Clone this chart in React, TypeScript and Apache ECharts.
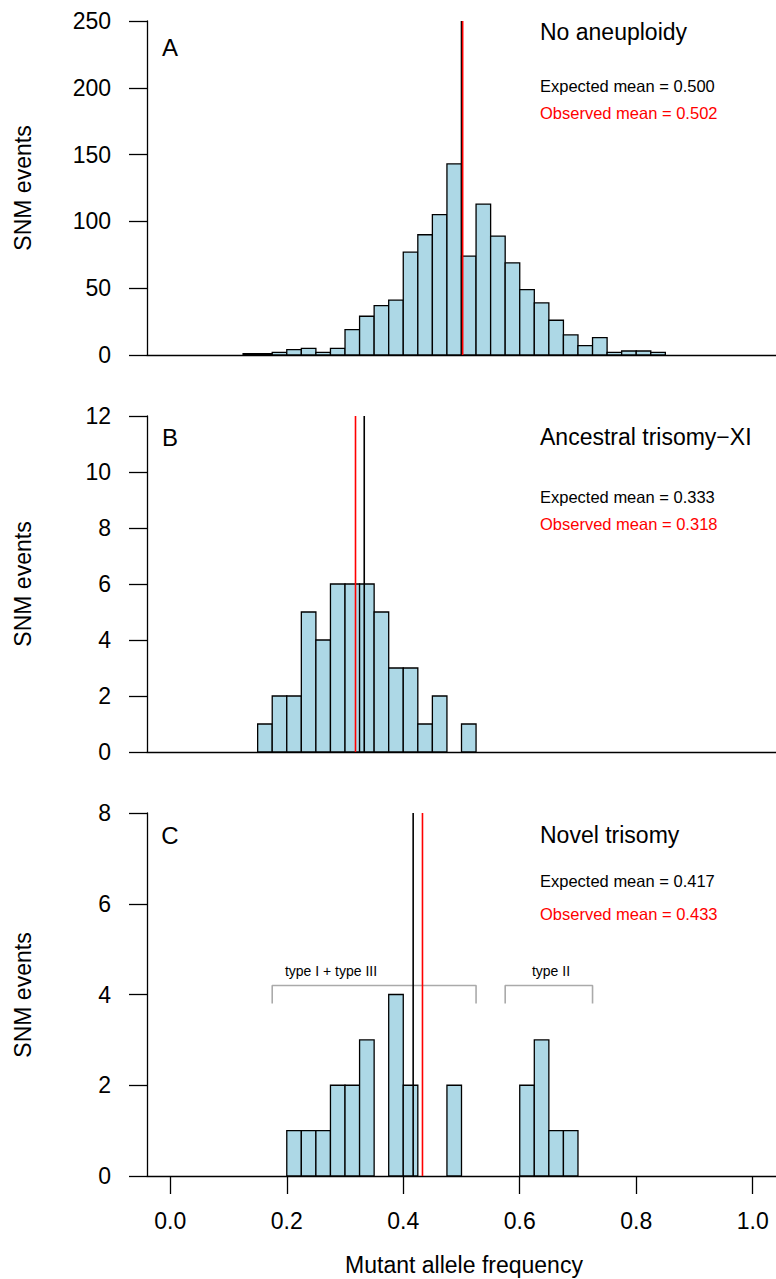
import React, { useEffect, useRef } from "react";
import * as echarts from "echarts";

// ---- data ----
const binWidth = 0.025;
const aStart = 0.125;
const aCounts = [1, 1, 2, 4, 5, 2, 5, 19, 29, 37, 41, 77, 90, 105, 143, 74, 113, 89, 69, 49, 39, 26, 15, 7, 13, 2, 3, 3, 2];
const bStart = 0.15;
const bCounts = [1, 2, 2, 5, 4, 6, 6, 6, 5, 3, 3, 1, 2, 0, 1];
const cStart = 0.2;
const cCounts = [1, 1, 1, 2, 2, 3, 0, 4, 2, 0, 0, 2, 0, 0, 0, 0, 2, 3, 1, 1];

const aMeans = { expected: 0.5, observed: 0.502 };
const bMeans = { expected: 0.333, observed: 0.318 };
const cMeans = { expected: 0.417, observed: 0.433 };

const aYMax = 250, aYStep = 50;
const bYMax = 12, bYStep = 2;
const cYMax = 8, cYStep = 2;

const xTicks = [0, 0.2, 0.4, 0.6, 0.8, 1.0];

const bracket1 = [[0.175, 3.8], [0.175, 4.2], [0.525, 4.2], [0.525, 3.8]];
const bracket2 = [[0.575, 3.8], [0.575, 4.2], [0.725, 4.2], [0.725, 3.8]];

const titles = ["No aneuploidy", "Ancestral trisomy\u2212XI", "Novel trisomy"];
const panelLetters = ["A", "B", "C"];

const FONT = "'Liberation Sans', Arial, Helvetica, sans-serif";

function bins(start: number, counts: number[]) {
  const out: number[][] = [];
  counts.forEach((c, i) => {
    if (c > 0) out.push([start + i * binWidth, start + (i + 1) * binWidth, c]);
  });
  return out;
}

const renderBar = (params: any, api: any) => {
  const x0 = api.value(0);
  const x1 = api.value(1);
  const c = api.value(2);
  const p0 = api.coord([x0, c]);
  const p1 = api.coord([x1, 0]);
  return {
    type: "rect",
    shape: { x: p0[0], y: p0[1], width: p1[0] - p0[0], height: p1[1] - p0[1] },
    style: { fill: "#ADD8E6", stroke: "#000", lineWidth: 1.3 },
  };
};

export default function App() {
  const ref = useRef<HTMLDivElement>(null);
  useEffect(() => {
    if (!ref.current) return;
    const chart = echarts.init(ref.current, null, { renderer: "svg" });

    const grids = [
      { left: 147, width: 634, top: 21, height: 334 },
      { left: 147, width: 634, top: 416, height: 336 },
      { left: 147, width: 634, top: 813, height: 363 },
    ];
    const axisLineStyle = { color: "#000", width: 1.3 };
    const xAxes = grids.map((_, i) => ({
      type: "value",
      gridIndex: i,
      min: -0.04,
      max: 1.04,
      splitLine: { show: false },
      axisLine: { show: true, onZero: false, lineStyle: axisLineStyle },
      axisTick:
        i === 2
          ? { show: true, customValues: xTicks, length: 18, lineStyle: axisLineStyle }
          : { show: false },
      axisLabel:
        i === 2
          ? {
              show: true,
              customValues: xTicks,
              formatter: (v: number) => v.toFixed(1),
              fontSize: 23,
              fontFamily: FONT,
              color: "#000",
              margin: 33,
            }
          : { show: false },
    }));
    const yMaxes = [aYMax, bYMax, cYMax];
    const ySteps = [aYStep, bYStep, cYStep];
    const yAxes = grids.map((_, i) => ({
      type: "value",
      gridIndex: i,
      min: 0,
      max: yMaxes[i],
      interval: ySteps[i],
      splitLine: { show: false },
      axisLine: { show: true, onZero: false, lineStyle: axisLineStyle },
      axisTick: { show: true, length: 18, lineStyle: axisLineStyle },
      axisLabel: { fontSize: 23, fontFamily: FONT, color: "#000", margin: 36 },
    }));

    const histData = [bins(aStart, aCounts), bins(bStart, bCounts), bins(cStart, cCounts)];
    const means = [aMeans, bMeans, cMeans];

    const series: any[] = [];
    histData.forEach((d, i) => {
      series.push({
        type: "custom",
        xAxisIndex: i,
        yAxisIndex: i,
        renderItem: renderBar,
        encode: { x: [0, 1], y: 2 },
        data: d,
        silent: true,
      });
      series.push({
        type: "line",
        xAxisIndex: i,
        yAxisIndex: i,
        data: [[means[i].expected, 0], [means[i].expected, yMaxes[i]]],
        symbol: "none",
        lineStyle: { color: "#000", width: 1.6 },
        silent: true,
      });
      series.push({
        type: "line",
        xAxisIndex: i,
        yAxisIndex: i,
        data: [[means[i].observed, 0], [means[i].observed, yMaxes[i]]],
        symbol: "none",
        lineStyle: { color: "#FF0000", width: 1.6 },
        silent: true,
      });
    });
    [bracket1, bracket2].forEach((b) => {
      series.push({
        type: "line",
        xAxisIndex: 2,
        yAxisIndex: 2,
        data: b,
        symbol: "none",
        lineStyle: { color: "#AAAAAA", width: 1.6 },
        silent: true,
        z: 1,
      });
    });

    const letterY = [47, 437, 835];
    const titleY = [32, 437, 835];
    const expY = [86, 497, 881];
    const obsY = [113, 524, 914];
    const yLabelY = [188, 584, 995];
    const graphics: any[] = [];
    for (let i = 0; i < 3; i++) {
      graphics.push({
        type: "text",
        x: 170,
        y: letterY[i],
        style: { text: panelLetters[i], font: `24px ${FONT}`, fill: "#000", textAlign: "center", textVerticalAlign: "middle" },
      });
      graphics.push({
        type: "text",
        x: 540,
        y: titleY[i],
        style: { text: titles[i], font: `23px ${FONT}`, fill: "#000", textAlign: "left", textVerticalAlign: "middle" },
      });
      graphics.push({
        type: "text",
        x: 540,
        y: expY[i],
        style: {
          text: `Expected mean = ${means[i].expected.toFixed(3)}`,
          font: `16.5px ${FONT}`,
          fill: "#000",
          textAlign: "left",
          textVerticalAlign: "middle",
        },
      });
      graphics.push({
        type: "text",
        x: 540,
        y: obsY[i],
        style: {
          text: `Observed mean = ${means[i].observed.toFixed(3)}`,
          font: `16.5px ${FONT}`,
          fill: "#FF0000",
          textAlign: "left",
          textVerticalAlign: "middle",
        },
      });
      graphics.push({
        type: "text",
        x: 23,
        y: yLabelY[i],
        rotation: Math.PI / 2,
        style: { text: "SNM events", font: `23px ${FONT}`, fill: "#000", textAlign: "center", textVerticalAlign: "middle" },
      });
    }
    graphics.push({
      type: "text",
      x: 464,
      y: 1265,
      style: { text: "Mutant allele frequency", font: `23px ${FONT}`, fill: "#000", textAlign: "center", textVerticalAlign: "middle" },
    });
    graphics.push({
      type: "text",
      x: 331,
      y: 971,
      style: { text: "type I + type III", font: `14px ${FONT}`, fill: "#000", textAlign: "center", textVerticalAlign: "middle" },
    });
    graphics.push({
      type: "text",
      x: 551,
      y: 971,
      style: { text: "type II", font: `14px ${FONT}`, fill: "#000", textAlign: "center", textVerticalAlign: "middle" },
    });

    chart.setOption({
      animation: false,
      backgroundColor: "#fff",
      grid: grids,
      xAxis: xAxes,
      yAxis: yAxes,
      series,
      graphic: graphics,
    });
    return () => chart.dispose();
  }, []);
  return (
    <div
      ref={ref}
      style={{ position: "absolute", left: 0, top: 0, width: 776, height: 1279 }}
    />
  );
}
